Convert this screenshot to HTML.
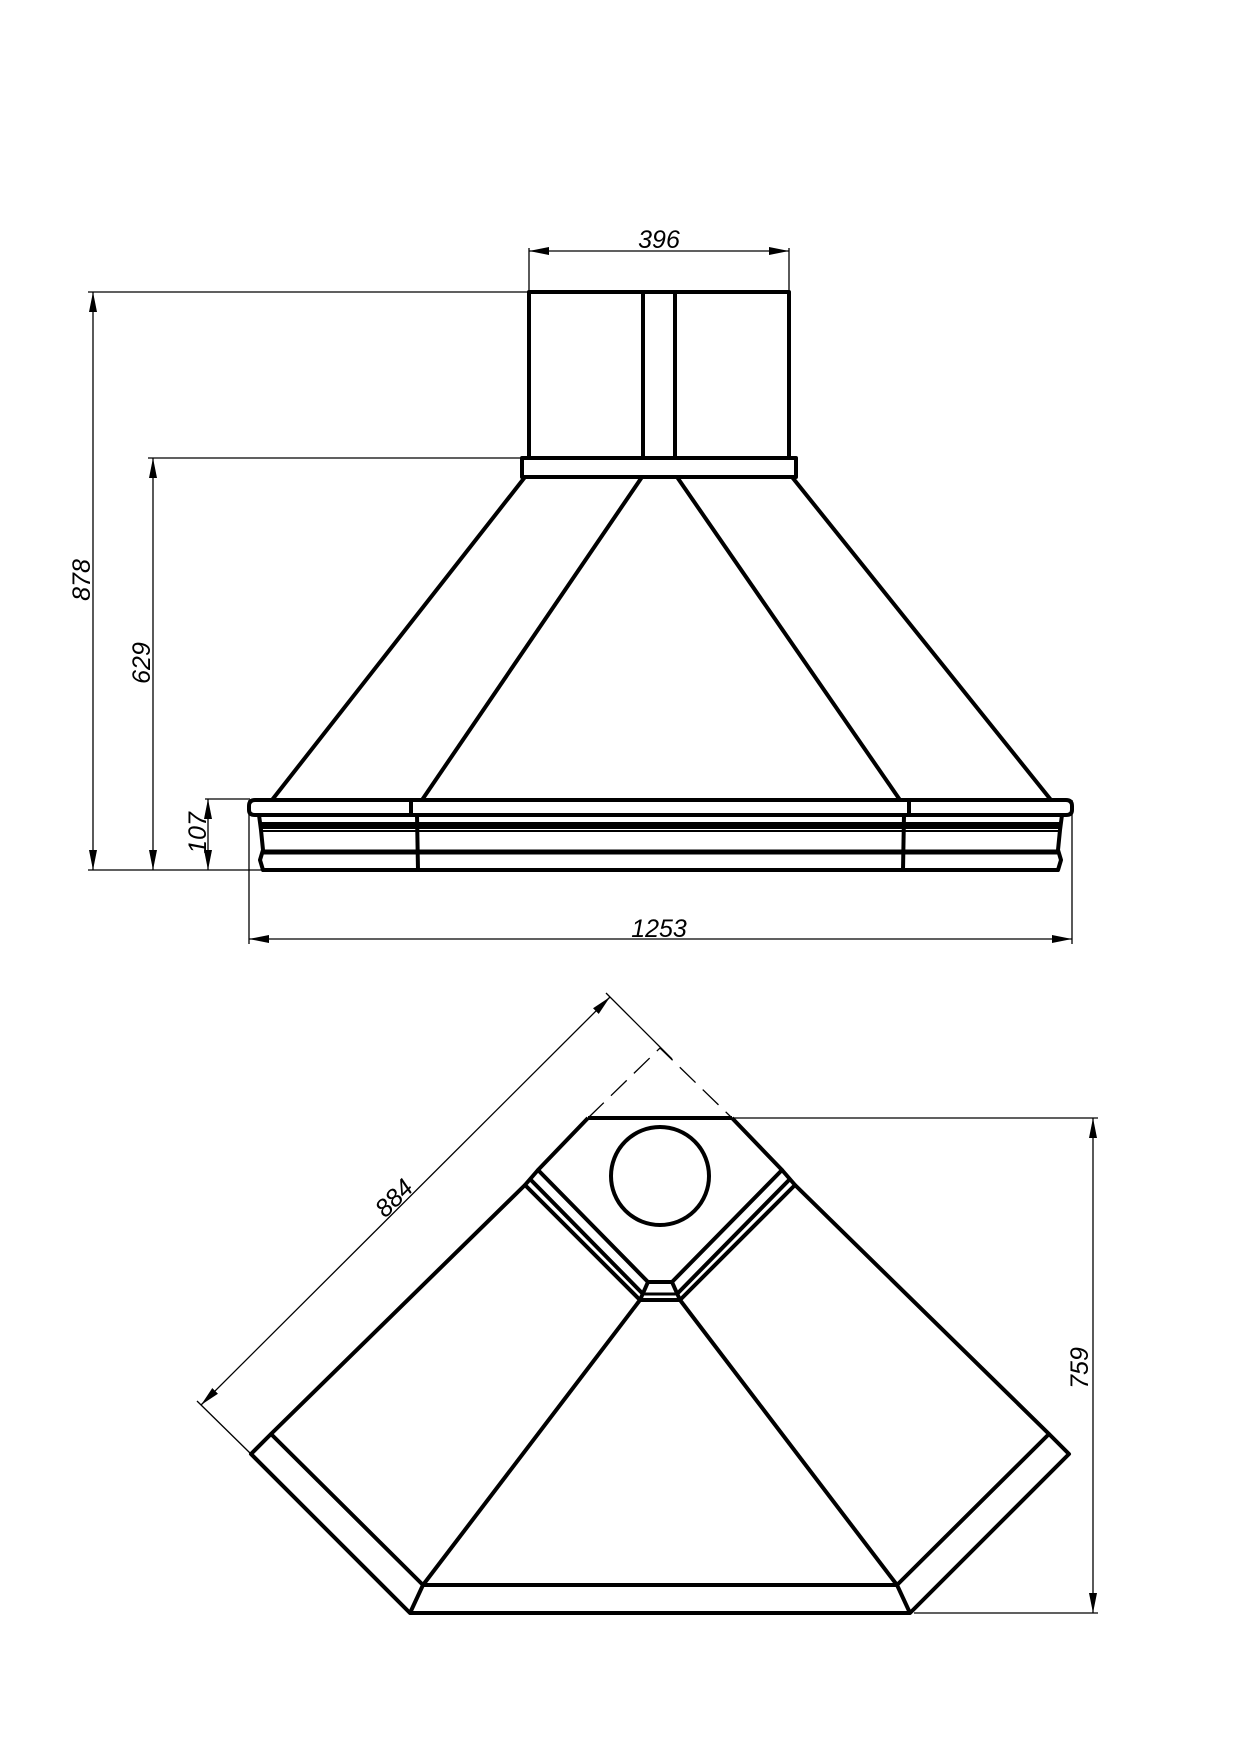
<!DOCTYPE html>
<html><head><meta charset="utf-8"><style>
html,body{margin:0;padding:0;background:#fff;}
svg{display:block;}
text{font-family:"Liberation Sans",sans-serif;font-style:italic;font-size:25px;fill:#000;}
</style></head><body>
<svg width="1240" height="1755" viewBox="0 0 1240 1755" xmlns="http://www.w3.org/2000/svg">
<defs>
<marker id="a" viewBox="0 0 20 8" refX="20" refY="4" markerWidth="20" markerHeight="8" markerUnits="userSpaceOnUse" orient="auto-start-reverse"><path d="M0,0 L20,4 L0,8 z" fill="#000"/></marker>
</defs>
<g fill="none" stroke="#000" stroke-width="1.3">
<line x1="529" y1="248" x2="529" y2="292"/><line x1="789" y1="248" x2="789" y2="292"/>
<line x1="529" y1="251" x2="789" y2="251" marker-start="url(#a)" marker-end="url(#a)"/>
<line x1="88" y1="292" x2="529" y2="292"/>
<line x1="148" y1="458" x2="522" y2="458"/>
<line x1="205" y1="799" x2="250" y2="799"/>
<line x1="88" y1="870" x2="262" y2="870"/>
<line x1="93" y1="292" x2="93" y2="870" marker-start="url(#a)" marker-end="url(#a)"/>
<line x1="153" y1="458" x2="153" y2="870" marker-start="url(#a)" marker-end="url(#a)"/>
<line x1="208" y1="799" x2="208" y2="870" marker-start="url(#a)" marker-end="url(#a)"/>
<line x1="249" y1="800" x2="249" y2="944"/><line x1="1072" y1="800" x2="1072" y2="944"/>
<line x1="249" y1="939" x2="1072" y2="939" marker-start="url(#a)" marker-end="url(#a)"/>
</g>
<text x="659" y="248" text-anchor="middle">396</text>
<text x="659" y="937" text-anchor="middle">1253</text>
<text transform="translate(90,580) rotate(-90)" text-anchor="middle">878</text>
<text transform="translate(150,663) rotate(-90)" text-anchor="middle">629</text>
<text transform="translate(206,833) rotate(-90)" text-anchor="middle">107</text>

<g fill="none" stroke="#000" stroke-width="4" stroke-linejoin="round">
<rect x="529" y="292" width="260" height="166"/>
<line x1="643" y1="292" x2="643" y2="458"/><line x1="675" y1="292" x2="675" y2="458"/>
<rect x="522" y="458" width="274" height="19"/>
<line x1="525" y1="477" x2="272" y2="800"/>
<line x1="642" y1="477" x2="422" y2="800"/>
<line x1="677" y1="477" x2="900" y2="800"/>
<line x1="792" y1="477" x2="1051" y2="800"/>
<path d="M255,800 H1066 Q1072,800 1072,806 V810 Q1072,815 1066,815 H255 Q249,815 249,810 V806 Q249,800 255,800 Z"/>
<line x1="411" y1="800" x2="411" y2="815"/><line x1="909" y1="800" x2="909" y2="815"/>
<path d="M259,815 L261,830 L263,850 L260,860 L263,870 H1058 L1061,860 L1058,850 L1060,830 L1062,815"/>
<line x1="417" y1="815" x2="418" y2="870"/><line x1="904" y1="815" x2="903" y2="870"/>
<line x1="261" y1="852" x2="1060" y2="852" stroke-width="5"/>
<line x1="261" y1="831" x2="1060" y2="831" stroke-width="2"/>
</g>
<rect x="260" y="822" width="801" height="7" fill="#000"/>

<g fill="none" stroke="#000" stroke-width="1.3">
<line x1="610" y1="997" x2="201" y2="1405" marker-start="url(#a)" marker-end="url(#a)"/>
<line x1="606" y1="993" x2="672" y2="1059"/>
<line x1="197" y1="1401" x2="251" y2="1454"/>
<line x1="732" y1="1118" x2="1098" y2="1118"/>
<line x1="914" y1="1613" x2="1098" y2="1613"/>
<line x1="1093" y1="1118" x2="1093" y2="1613" marker-start="url(#a)" marker-end="url(#a)"/>
<path d="M588,1118 L660,1048 L732,1118" stroke-dasharray="22,10"/>
</g>
<text transform="translate(400,1204) rotate(-45)" text-anchor="middle">884</text>
<text transform="translate(1088,1368) rotate(-90)" text-anchor="middle">759</text>
<g fill="none" stroke="#000" stroke-width="4" stroke-linejoin="round">
<line x1="588" y1="1118" x2="732" y2="1118"/>
<circle cx="660" cy="1176" r="49"/>
<polyline points="588,1118 538,1170 648,1282 672,1282 782,1170 732,1118"/>
<line x1="529" y1="1178" x2="643" y2="1294"/><line x1="791" y1="1178" x2="677" y2="1294"/>
<polyline points="538,1170 525,1185 640,1300 680,1300 795,1185 782,1170"/>
<line x1="643" y1="1294" x2="677" y2="1294" stroke-width="3"/>
<line x1="648" y1="1282" x2="640" y2="1300"/><line x1="672" y1="1282" x2="680" y2="1300"/>
<polyline points="525,1185 271,1434 423,1585 897,1585 1049,1434 795,1185"/>
<polyline points="271,1434 251,1454 410,1613 910,1613 1069,1454 1049,1434"/>
<line x1="423" y1="1585" x2="410" y2="1613"/><line x1="897" y1="1585" x2="910" y2="1613"/>
<line x1="640" y1="1300" x2="423" y2="1585"/><line x1="680" y1="1300" x2="897" y2="1585"/>
</g>
</svg>
</body></html>
